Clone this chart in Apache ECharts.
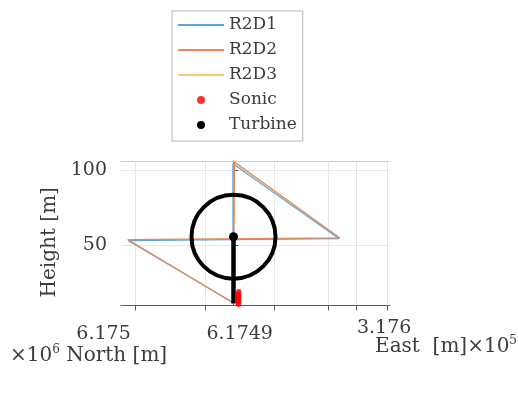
<!DOCTYPE html>
<html>
<head>
<meta charset="utf-8">
<script src="https://cdn.jsdelivr.net/npm/echarts@6/dist/echarts.min.js"></script>
<style>
  html, body { margin: 0; padding: 0; background: #ffffff; }
  #chart { width: 518px; height: 405px; }
</style>
</head>
<body>
<div id="chart"></div>
<script>
const FONT = '"DejaVu Serif", "Liberation Serif", serif';
const TEXT = '#3c3c3c';

// Scan trajectories: projected horizontal offset from the turbine [m] and height [m]
const r2d1X = [-0.3, -70.0, 70.4, -0.4, -0.3];
const r2d1H = [11.6, 52.9, 54.2, 104.2, 11.6];
const r2d2X = [0.0, -70.5, 70.8, 0.7, 0.0];
const r2d2H = [11.2, 53.6, 54.8, 105.4, 11.2];
const r2d3X = [0.2, -70.3, 70.6, 0.3, 0.2];
const r2d3H = [11.4, 53.4, 54.5, 105.0, 11.4];

// Sonic anemometer positions
const sonicX = [3.3, 3.3, 3.3, 3.3, 3.3, 3.3, 3.3, 3.3, 3.5];
const sonicH = [10.5, 11.5, 12.5, 13.5, 14.5, 15.5, 16.5, 17.5, 18.8];

// Turbine: position, hub height, rotor radius, tower foot
const turbineX = [0];
const hubHeight = [55.5];
const rotorRadius = [28];
const towerFoot = [11];

// Axis ticks and labels
const heightTicks = [50, 100];
const groundTicks = [-65.7, -19, 27, 63, 81.7, 102.3];
const northLabelPos = [-68.5, 26.3];
const northLabelText = ['6.175', '6.1749'];
const eastLabelPos = [82.3];
const eastLabelText = ['3.176'];

const xMin = -75, xMax = 104.33, yMin = 9.67, yMax = 106;

const zip = (xs, ys) => xs.map((x, i) => [x, ys[i]]);

function labelFor(positions, texts) {
  return v => {
    const i = positions.findIndex(p => Math.abs(p - v) < 1e-6);
    return i >= 0 ? texts[i] : '';
  };
}

const chart = echarts.init(document.getElementById('chart'), null, { renderer: 'canvas' });

const trajLine = (color) => ({ color: color, width: 1.2 });
const hiddenSymbol = { opacity: 0 };
const supStyle = { fontSize: 12, verticalAlign: 'top', padding: [0, 0, 11, 0], fontFamily: FONT, fill: TEXT };

chart.setOption({
  animation: false,
  backgroundColor: '#ffffff',
  textStyle: { fontFamily: FONT },
  grid: { left: 121, top: 161, width: 269, height: 144.5, containLabel: false },
  legend: {
    orient: 'vertical',
    left: 172, top: 11,
    itemWidth: 46, itemHeight: 8, itemGap: 5, itemTextGap: 5,
    padding: [4, 6, 6, 5],
    borderColor: '#b4b4b4', borderWidth: 1,
    textStyle: { fontFamily: FONT, fontSize: 17, lineHeight: 20, color: TEXT },
    data: [
      { name: 'R2D1', itemStyle: hiddenSymbol },
      { name: 'R2D2', itemStyle: hiddenSymbol },
      { name: 'R2D3', itemStyle: hiddenSymbol },
      { name: 'Sonic', icon: 'circle' },
      { name: 'Turbine', icon: 'circle' }
    ]
  },
  xAxis: [
    {
      type: 'value', position: 'bottom', min: xMin, max: xMax,
      axisLine: { show: true, lineStyle: { color: '#5a5a5a', width: 1 } },
      axisTick: { show: true, inside: false, length: 5, customValues: groundTicks, lineStyle: { color: '#5a5a5a' } },
      splitLine: { show: true, lineStyle: { color: '#e6e6e6', width: 1 } },
      axisLabel: {
        customValues: northLabelPos, formatter: labelFor(northLabelPos, northLabelText),
        align: 'right', margin: 19, fontFamily: FONT, fontSize: 19, color: TEXT
      }
    },
    {
      type: 'value', position: 'bottom', min: xMin, max: xMax,
      axisLine: { show: false }, axisTick: { show: false }, splitLine: { show: false },
      axisLabel: {
        customValues: eastLabelPos, formatter: labelFor(eastLabelPos, eastLabelText),
        align: 'left', margin: 13, fontFamily: FONT, fontSize: 19, color: TEXT
      }
    },
    {
      type: 'value', position: 'top', min: xMin, max: xMax,
      axisLine: { show: true, lineStyle: { color: '#cfcfcf', width: 1 } },
      axisTick: { show: false }, splitLine: { show: false }, axisLabel: { show: false }
    }
  ],
  yAxis: {
    type: 'value', min: yMin, max: yMax,
    name: 'Height [m]', nameLocation: 'middle', nameGap: 51, nameRotate: 90,
    nameTextStyle: { fontFamily: FONT, fontSize: 20, color: TEXT, padding: [0, 18, 0, 0] },
    axisLine: { show: true, lineStyle: { color: '#5a5a5a', width: 1 } },
    axisTick: { show: true, inside: true, length: 5, customValues: heightTicks, lineStyle: { color: '#5a5a5a' } },
    splitLine: { show: true, lineStyle: { color: '#e6e6e6', width: 1 } },
    axisLabel: { customValues: heightTicks, margin: 14, fontFamily: FONT, fontSize: 19, color: TEXT }
  },
  graphic: [
    {
      type: 'text', left: 10, top: 344,
      style: { text: '×10{s|6} North [m]', font: '20px ' + FONT, fill: TEXT, rich: { s: supStyle } }
    },
    {
      type: 'text', right: 1, top: 335,
      style: { text: 'East  [m]×10{s|5}', font: '20px ' + FONT, fill: TEXT, rich: { s: supStyle } }
    }
  ],
  series: [
    { name: 'R2D3', type: 'line', data: zip(r2d3X, r2d3H), symbol: 'none', color: '#f2cd72', lineStyle: trajLine('#f2cd72'), z: 2 },
    { name: 'R2D1', type: 'line', data: zip(r2d1X, r2d1H), symbol: 'none', color: '#5aa6dc', lineStyle: trajLine('#5aa6dc'), z: 2 },
    { name: 'R2D2', type: 'line', data: zip(r2d2X, r2d2H), symbol: 'none', color: '#e8895c', lineStyle: trajLine('#e8895c'), z: 2 },
    {
      name: 'Turbine', type: 'custom', z: 3,
      itemStyle: { color: '#000000' },
      data: turbineX.map((x, i) => [x, hubHeight[i], rotorRadius[i], towerFoot[i]]),
      renderItem: function (params, api) {
        const hub = api.coord([api.value(0), api.value(1)]);
        const foot = api.coord([api.value(0), api.value(3)]);
        const r = api.size([api.value(2), 0])[0];
        return {
          type: 'group',
          children: [
            { type: 'circle', shape: { cx: hub[0], cy: hub[1], r: r }, style: { fill: 'none', stroke: '#000000', lineWidth: 4 } },
            { type: 'line', shape: { x1: hub[0], y1: hub[1], x2: foot[0], y2: foot[1] }, style: { stroke: '#000000', lineWidth: 4.5 } },
            { type: 'circle', shape: { cx: hub[0], cy: hub[1], r: 4.5 }, style: { fill: '#000000' } }
          ]
        };
      }
    },
    {
      name: 'Sonic', type: 'scatter', z: 4,
      data: zip(sonicX, sonicH), symbol: 'circle', symbolSize: 5.5,
      itemStyle: { color: '#ff0000' }
    }
  ]
});
</script>
</body>
</html>
